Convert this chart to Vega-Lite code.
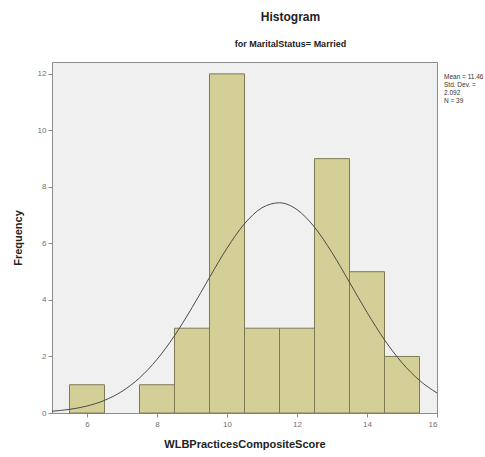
{
  "$schema": "https://vega.github.io/schema/vega-lite/v6.json",
  "width": 385,
  "height": 351,
  "autosize": "none",
  "padding": {"left": 52, "top": 62, "right": 48, "bottom": 44},
  "background": "white",
  "config": {
    "font": "Liberation Sans",
    "view": {"fill": "#f0f0f0", "stroke": "#8c8c8c", "strokeWidth": 1},
    "axis": {"grid": false, "domainColor": "#8c8c8c", "tickColor": "#8c8c8c", "labelColor": "#707070", "labelFontSize": 8, "titleFontSize": 11, "titleFontWeight": "bold", "titleColor": "#222", "tickSize": 4}
  },
  "title": {
    "text": "Histogram",
    "subtitle": "for MaritalStatus= Married",
    "anchor": "middle",
    "dx": 46,
    "fontSize": 12,
    "fontWeight": "bold",
    "color": "#222",
    "subtitleFontSize": 9,
    "subtitleFontWeight": "bold",
    "subtitleColor": "#222",
    "subtitlePadding": 16,
    "offset": 12
  },
  "datasets": {
    "bins": [
      {"bin_start": 5.5, "bin_end": 6.5, "count": 1},
      {"bin_start": 7.5, "bin_end": 8.5, "count": 1},
      {"bin_start": 8.5, "bin_end": 9.5, "count": 3},
      {"bin_start": 9.5, "bin_end": 10.5, "count": 12},
      {"bin_start": 10.5, "bin_end": 11.5, "count": 3},
      {"bin_start": 11.5, "bin_end": 12.5, "count": 3},
      {"bin_start": 12.5, "bin_end": 13.5, "count": 9},
      {"bin_start": 13.5, "bin_end": 14.5, "count": 5},
      {"bin_start": 14.5, "bin_end": 15.5, "count": 2}
    ],
    "curve": [
      {"score": 5.0, "freq": 0.063},
      {"score": 5.5, "freq": 0.129},
      {"score": 6.0, "freq": 0.247},
      {"score": 6.5, "freq": 0.448},
      {"score": 7.0, "freq": 0.767},
      {"score": 7.5, "freq": 1.241},
      {"score": 8.0, "freq": 1.897},
      {"score": 8.5, "freq": 2.735},
      {"score": 9.0, "freq": 3.727},
      {"score": 9.5, "freq": 4.797},
      {"score": 10.0, "freq": 5.832},
      {"score": 10.5, "freq": 6.697},
      {"score": 11.0, "freq": 7.262},
      {"score": 11.5, "freq": 7.439},
      {"score": 12.0, "freq": 7.196},
      {"score": 12.5, "freq": 6.575},
      {"score": 13.0, "freq": 5.675},
      {"score": 13.5, "freq": 4.625},
      {"score": 14.0, "freq": 3.561},
      {"score": 14.5, "freq": 2.589},
      {"score": 15.0, "freq": 1.778},
      {"score": 15.5, "freq": 1.153},
      {"score": 16.0, "freq": 0.707}
    ]
  },
  "layer": [
    {
      "data": {"name": "bins"},
      "mark": {"type": "rect", "fill": "#d4cf97", "stroke": "#7d7a55", "strokeWidth": 1},
      "encoding": {
        "x": {"field": "bin_start", "type": "quantitative", "scale": {"domain": [5, 16], "nice": false, "zero": false},
              "axis": {"title": "WLBPracticesCompositeScore", "values": [6, 8, 10, 12, 14, 16], "titlePadding": 10, "labelPadding": 3}},
        "x2": {"field": "bin_end"},
        "y": {"field": "count", "type": "quantitative", "scale": {"domain": [0, 12.42], "nice": false},
              "axis": {"title": "Frequency", "values": [0, 2, 4, 6, 8, 10, 12], "titlePadding": 14, "labelPadding": 2}},
        "y2": {"datum": 0}
      }
    },
    {
      "data": {"name": "curve"},
      "mark": {"type": "line", "color": "#4a4a4a", "strokeWidth": 1, "interpolate": "monotone"},
      "encoding": {
        "x": {"field": "score", "type": "quantitative"},
        "y": {"field": "freq", "type": "quantitative"}
      }
    },
    {
      "data": {"values": [{"label": "stats"}]},
      "mark": {"type": "text", "align": "left", "baseline": "top", "fontSize": 6.5, "lineHeight": 8, "color": "#333", "clip": false,
               "text": ["Mean = 11.46", "Std. Dev. =", "2.092", "N = 39"]},
      "encoding": {
        "x": {"datum": 16.2, "type": "quantitative"},
        "y": {"datum": 12.0, "type": "quantitative"}
      }
    }
  ]
}
